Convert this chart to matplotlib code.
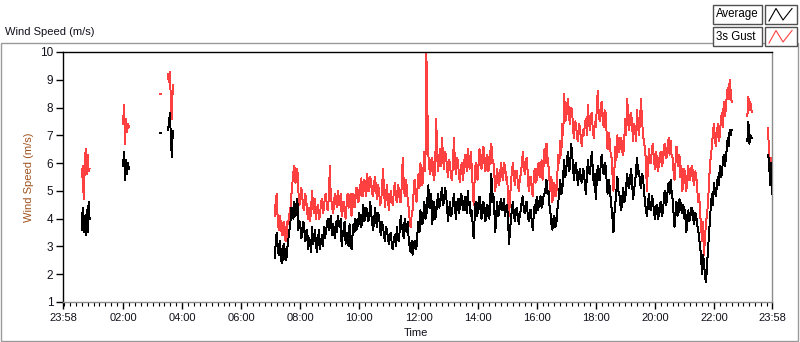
import numpy as np
import matplotlib
matplotlib.use("Agg")
import matplotlib.pyplot as plt
from matplotlib.patches import Rectangle
from matplotlib.lines import Line2D

# ---------------- data (minutes after 23:58 of the previous day) ----------------
# continuous segment 07:10 -> 22:38: readings every 4 minutes (avg_main / gust_main)
# plus the readings lying between them (…_mid), giving a 2-minute series
main_start_min = 430
main_step_min = 4
avg_main = [
    2.6, 3.5, 2.7, 2.9, 2.5, 2.9, 2.6, 3.3, 3.9, 4.2,
    4.6, 4.3, 3.6, 3.8, 3.4, 3.7, 3.3, 2.9, 3.1, 3.7,
    3.3, 3.0, 3.3, 2.9, 3.4, 3.7, 3.5, 4.0, 3.8, 3.4,
    3.6, 3.9, 4.1, 3.7, 3.0, 3.6, 3.1, 3.4, 3.8, 2.9,
    3.8, 4.0, 3.7, 4.2, 3.7, 4.5, 4.0, 4.3, 4.1,
    4.2, 3.6, 4.4, 3.7, 4.1, 3.4, 3.7, 3.2, 3.6, 3.1,
    3.5, 2.9, 3.4, 3.7, 3.2, 4.1, 3.6, 4.0, 3.5, 3.3,
    2.8, 2.7, 3.2, 3.0, 3.9, 4.3, 3.8, 4.6, 4.1, 5.2,
    4.4, 3.8, 4.6, 4.2, 4.9, 4.5, 5.1, 4.6, 4.9, 3.9,
    4.6, 4.2, 4.9, 4.0, 4.7, 4.4, 4.8, 4.3, 4.6, 5.0, 4.6,
    4.3, 3.3, 4.6, 4.2, 4.8, 4.0, 4.6, 3.9, 4.5, 4.0,
    5.6, 4.9, 3.5, 4.6, 4.2, 4.7, 4.3, 4.1, 4.5, 3.1,
    4.0, 4.6, 3.9, 4.4, 3.8, 4.3, 4.8, 4.2, 4.6, 3.9,
    4.3, 3.6, 4.5, 4.8, 4.4, 4.8, 4.5, 4.9, 5.4, 5.0,
    4.2, 3.6, 4.1, 3.8, 4.6, 5.4, 5.0, 6.1, 5.7, 6.4, 5.9,
    6.4, 5.4, 6.0, 5.2, 5.8, 5.3, 5.7, 4.9, 6.1, 5.6,
    6.4, 5.2, 4.7, 5.9, 5.4, 6.3, 5.6, 5.9, 4.9, 5.2,
    4.4, 3.5, 4.6, 5.5, 4.9, 4.3, 5.1, 4.7, 5.6, 5.1,
    5.8, 4.7, 5.3, 6.2, 5.7, 5.1, 5.5, 4.6, 4.1, 4.9,
    4.3, 4.7, 4.0, 4.5, 4.1, 4.6, 4.2, 5.0, 4.6, 5.3,
    5.4, 4.7, 3.7, 4.6, 4.2, 4.6, 4.2, 4.0, 3.5, 4.3,
    4.0, 4.4, 3.8, 4.1, 3.6, 3.0, 2.0, 2.4, 1.7, 2.9,
    4.0, 4.9, 5.3, 4.8, 5.5, 5.9, 5.6, 6.3, 6.1, 6.9, 7.2, 7.2,
]
avg_main_mid = [
    3.1, 2.9, 3.2, 2.4, 3.1, 2.5, 3.0, 3.6, 4.4, 4.0,
    4.1, 4.7, 3.9, 3.3, 3.9, 3.2, 3.6, 3.3, 2.8, 3.1,
    3.6, 2.8, 3.6, 3.2, 3.0, 3.3, 3.8, 3.6, 4.1, 3.8,
    3.3, 3.5, 3.8, 4.0, 3.4, 3.9, 3.5, 3.0, 3.3, 3.4,
    3.5, 3.6, 4.0, 3.8, 4.1, 3.9, 4.4, 3.9, 4.6,
    3.8, 4.0, 3.9, 4.2, 3.6, 3.9, 3.4, 3.7, 3.3, 3.4,
    3.0, 3.3, 3.0, 3.3, 3.6, 3.7, 3.3, 3.7, 3.9, 3.0,
    3.2, 3.0, 2.9, 3.5, 3.5, 3.9, 4.2, 4.0, 4.7, 4.4,
    4.9, 4.3, 4.0, 4.6, 4.4, 4.9, 4.5, 5.1, 4.4, 4.3,
    4.1, 4.6, 4.4, 4.5, 4.2, 4.9, 4.3, 4.8, 4.2, 4.5, 4.1,
    3.8, 4.0, 4.1, 4.6, 4.3, 4.5, 4.2, 4.4, 4.1, 4.8,
    4.6, 4.3, 4.2, 4.1, 4.6, 4.3, 4.7, 4.4, 3.9, 3.6,
    4.4, 4.1, 4.3, 4.0, 4.2, 4.7, 4.3, 4.6, 4.1, 4.3,
    3.9, 4.1, 4.2, 4.3, 4.7, 4.4, 4.8, 5.1, 4.9, 4.5,
    3.8, 4.0, 3.7, 4.3, 5.0, 4.9, 5.6, 5.5, 6.2, 5.7, 6.7,
    5.8, 5.9, 5.5, 5.6, 5.4, 5.8, 5.2, 5.5, 5.7, 6.0,
    5.8, 5.6, 5.3, 5.4, 5.9, 5.8, 6.0, 5.4, 5.4, 4.8,
    4.0, 4.2, 5.0, 5.0, 4.5, 4.8, 4.6, 5.2, 5.2, 5.5,
    5.2, 5.1, 5.8, 5.6, 5.3, 5.6, 5.0, 4.3, 4.5, 4.4,
    4.8, 4.3, 4.4, 4.0, 4.5, 4.1, 4.6, 4.5, 5.0, 4.9,
    5.0, 4.2, 4.2, 4.1, 4.7, 4.3, 4.5, 4.3, 3.9, 3.9,
    4.4, 4.0, 4.2, 3.8, 3.3, 2.6, 2.7, 1.9, 2.3, 3.4,
    4.5, 4.5, 5.0, 5.2, 5.2, 5.5, 6.0, 5.9, 6.5, 6.6, 7.0,
]
gust_main = [
    4.1, 4.9, 3.6, 3.9, 3.4, 3.7, 3.3, 3.8, 4.4, 5.3,
    5.9, 5.4, 5.0, 4.6, 4.8, 4.3, 4.7, 4.0, 3.9,
    5.0, 4.2, 4.0, 4.5, 4.1, 4.7, 4.4, 4.9, 4.3, 5.9,
    4.6, 4.4, 4.8, 5.0, 4.5, 4.1, 4.6, 4.0, 4.9, 4.5,
    4.1, 4.9, 4.7, 5.1, 4.8, 5.45, 4.9, 5.3, 5.6, 5.0,
    5.3, 4.8, 5.5, 4.7, 5.0, 4.6, 5.8, 4.4, 5.2, 4.3,
    5.0, 4.5, 5.3, 4.6, 5.1, 4.6, 6.2, 4.8, 5.2, 4.4,
    3.7, 4.3, 5.4, 4.6, 5.6, 6.0, 5.2, 6.4, 9.95, 6.3,
    5.6, 6.2, 5.4, 7.6, 5.7, 6.5, 6.9, 5.8, 6.3, 5.5,
    6.0, 5.4, 6.9, 5.6, 6.1, 5.3, 6.0, 5.7, 6.2, 6.5, 5.8,
    5.9, 4.5, 6.0, 5.4, 6.5, 5.8, 6.6, 5.7, 6.3, 5.9,
    6.7, 6.1, 5.0, 5.8, 5.2, 6.0, 5.4, 5.9, 5.5, 4.1,
    5.3, 6.0, 5.2, 5.7, 5.0, 5.6, 6.4, 5.6, 6.2, 5.0,
    5.5, 4.8, 5.8, 5.4, 6.0, 5.6, 5.4, 6.5, 6.7, 5.9,
    5.0, 4.6, 5.3, 4.9, 6.3, 6.8, 7.4, 8.5, 7.6, 8.3, 7.4,
    7.9, 6.9, 7.4, 6.8, 7.3, 6.6, 7.0, 7.6, 8.1, 7.2,
    7.8, 6.9, 7.3, 8.6, 7.5, 8.2, 7.3, 7.8, 6.5, 6.9,
    6.2, 5.0, 6.6, 7.0, 6.4, 6.9, 6.3, 7.6, 8.3, 7.2,
    7.8, 6.8, 7.3, 7.9, 7.0, 8.3, 7.1, 6.6, 5.0, 6.5,
    6.0, 6.7, 5.8, 6.2, 5.9, 6.4, 6.0, 6.7, 6.2, 6.9,
    6.8, 6.2, 5.4, 6.6, 5.9, 5.5, 5.0, 5.8, 5.0, 5.9,
    5.4, 5.9, 5.2, 5.6, 4.6, 4.2, 3.2, 2.7, 3.8, 4.5,
    5.9, 6.6, 7.4, 6.6, 7.4, 7.0, 7.8, 8.2, 7.9, 8.7, 9.0, 8.2,
]
gust_main_mid = [
    4.6, 4.0, 4.1, 3.5, 3.9, 3.2, 3.9, 4.2, 4.9, 5.7,
    5.3, 5.8, 4.5, 5.1, 4.4, 4.9, 4.2, 4.4, 4.4, 4.4,
    4.7, 4.4, 4.0, 4.6, 4.2, 4.8, 4.4, 4.8, 4.7, 4.2,
    4.9, 4.4, 4.5, 4.9, 4.6, 4.2, 4.5, 4.4, 4.9, 4.5,
    4.4, 5.1, 4.6, 5.2, 4.8, 5.4, 4.8, 5.1, 5.5,
    4.9, 5.3, 5.0, 5.2, 4.5, 5.1, 5.0, 4.9, 4.7, 4.8,
    4.6, 5.0, 4.8, 5.2, 4.6, 5.2, 5.3, 5.4, 4.7, 4.0,
    4.1, 4.9, 4.9, 5.1, 5.1, 5.5, 5.8, 5.7, 8.0, 5.8,
    6.1, 5.6, 6.0, 6.2, 6.2, 5.9, 6.1, 6.4, 5.8, 6.1,
    5.5, 6.0, 6.0, 6.2, 5.6, 5.8, 5.4, 6.3, 5.7, 6.0, 6.4,
    5.2, 5.4, 5.5, 6.0, 5.9, 6.3, 6.0, 6.2, 5.7, 6.4,
    6.0, 5.6, 5.5, 5.3, 5.7, 5.5, 6.0, 5.4, 4.8, 4.8,
    5.8, 5.5, 5.7, 5.2, 5.5, 6.0, 5.9, 6.1, 5.6, 5.5,
    5.1, 5.4, 5.3, 5.9, 5.5, 6.1, 5.9, 6.0, 6.2, 5.4,
    5.5, 5.1, 4.8, 5.6, 6.0, 6.3, 7.0, 7.5, 8.1, 7.6, 8.0,
    7.2, 7.5, 6.9, 7.4, 6.8, 7.2, 7.4, 7.0, 7.5, 7.7,
    7.2, 7.5, 7.9, 7.8, 8.0, 7.6, 7.9, 7.1, 7.1, 6.4,
    5.6, 5.8, 6.1, 6.5, 6.9, 6.4, 6.9, 7.0, 7.6, 7.7,
    7.3, 7.4, 6.8, 7.3, 7.6, 7.5, 6.7, 6.0, 5.9, 6.0,
    6.5, 6.2, 6.4, 5.7, 6.3, 5.9, 6.5, 6.2, 6.6, 6.3,
    6.3, 5.7, 6.0, 6.1, 6.3, 5.9, 5.5, 5.3, 5.5, 5.4,
    5.8, 5.4, 5.7, 5.1, 4.9, 3.7, 3.9, 3.4, 4.2, 5.3,
    6.3, 7.1, 6.9, 7.1, 6.8, 7.5, 7.3, 7.7, 8.4, 8.3, 8.6,
]

# short fragments, one reading every 2 minutes
frag1_start, frag1_avg, frag1_gust = 38, [3.6, 4.4, 3.5, 4.1, 3.4, 4.3, 3.5, 4.6, 4.0], [5.5, 5.9, 4.7, 5.7, 6.5, 5.6, 6.3, 5.7, 5.8]
frag2_start, frag2_avg, frag2_gust = 122, [5.9, 6.4, 5.4, 6.1, 5.6, 6.0, 5.8], [7.4, 8.1, 6.7, 7.6, 7.1, 7.4, 7.3]
frag3_start, frag3_avg, frag3_gust = 197, [7.1, 7.1], [8.5, 8.5]
frag4_start, frag4_avg, frag4_gust = 213, [7.2, 7.4, 7.8, 7.0, 6.2, 7.15], [9.2, 8.9, 9.3, 8.3, 7.6, 8.8]
frag5_start, frag5_avg, frag5_gust = 1390, [6.8, 7.5, 6.7, 7.0, 6.9, 6.9], [7.7, 8.4, 7.9, 8.2, 7.9, 7.85]
frag6_start, frag6_avg, frag6_gust = 1432, [6.3, 6.1, 5.2, 6.0, 4.9], [7.25, 6.3, 5.6, 6.2, 5.0]
frag_step_min = 2

x_tick_minutes = [0, 122, 242, 362, 482, 602, 722, 842, 962, 1082, 1202, 1322, 1440]
x_tick_labels = ["23:58", "02:00", "04:00", "06:00", "08:00", "10:00", "12:00",
                 "14:00", "16:00", "18:00", "20:00", "22:00", "23:58"]
y_ticks = [1, 2, 3, 4, 5, 6, 7, 8, 9, 10]


def interleave(on_grid, between):
    out = []
    for k, v in enumerate(on_grid):
        out.append(v)
        if k < len(between):
            out.append(between[k])
    return out


avg_main_2min = interleave(avg_main, avg_main_mid)
gust_main_2min = interleave(gust_main, gust_main_mid)

# ---------------- assemble with gaps ----------------
segments = [
    (frag1_start, frag_step_min, frag1_avg, frag1_gust),
    (frag2_start, frag_step_min, frag2_avg, frag2_gust),
    (frag3_start, frag_step_min, frag3_avg, frag3_gust),
    (frag4_start, frag_step_min, frag4_avg, frag4_gust),
    (main_start_min, main_step_min / 2, avg_main_2min, gust_main_2min),
    (frag5_start, frag_step_min, frag5_avg, frag5_gust),
    (frag6_start, frag_step_min, frag6_avg, frag6_gust),
]
T, A, G = [], [], []
for start, step, av, gu in segments:
    n = len(av)
    T.extend(start + step * np.arange(n))
    A.extend(av)
    G.extend(gu)
    T.append(np.nan); A.append(np.nan); G.append(np.nan)
T = np.array(T, float); A = np.array(A, float); G = np.array(G, float)

# ---------------- figure ----------------
W, H = 800, 342
fig = plt.figure(figsize=(W / 100, H / 100), dpi=100)
fig.patch.set_facecolor("white")
FONT = "Liberation Sans"
TXT = "#10101a"


def fx(px):
    return px / W


def fy(py):
    return 1 - py / H


def rect(x0, y0, x1, y1, **kw):
    fig.add_artist(Rectangle((fx(x0), fy(y1)), fx(x1) - fx(x0), fy(y0) - fy(y1),
                             transform=fig.transFigure, **kw))


# outer panel frame
rect(0.5, 42.5, 797.5, 340.5, fill=False, edgecolor="#9a9a9a", lw=1)

ax = fig.add_axes([fx(63), fy(302), fx(772) - fx(63), fy(52) - fy(302)])
ax.set_facecolor("white")
ax.plot(T, G, color="#ff4040", lw=0.7, zorder=2, antialiased=False)
ax.plot(T, A, color="#000000", lw=0.7, zorder=3, antialiased=False)
ax.set_xlim(0, 1440)
ax.set_ylim(1, 10)

ax.set_xticks(x_tick_minutes)
ax.set_xticklabels(x_tick_labels)
ax.set_xticks(np.arange(2, 1440, 12), minor=True)
ax.set_yticks(y_ticks)
ax.set_yticklabels([str(v) for v in y_ticks])
ax.tick_params(axis="x", which="major", length=5, width=1, direction="out", pad=3,
               labelsize=8, labelcolor=TXT, color="black")
ax.tick_params(axis="x", which="minor", length=3, width=0.8, direction="out", color="black")
ax.tick_params(axis="y", which="major", length=5, width=1, direction="out", pad=2,
               labelsize=8.5, labelcolor=TXT, color="black")
for lab in ax.get_xticklabels() + ax.get_yticklabels():
    lab.set_fontfamily(FONT)

for side, col in (("left", "black"), ("top", "black"), ("right", "#8c8c8c"), ("bottom", "#8c8c8c")):
    ax.spines[side].set_color(col)
    ax.spines[side].set_linewidth(1)

ax.set_ylabel("Wind Speed (m/s)", fontsize=8, color="#a0521e", fontfamily=FONT, labelpad=4)

fig.text(fx(5), fy(32), "Wind Speed (m/s)", ha="left", va="center", fontsize=8,
         color=TXT, fontfamily=FONT)
fig.text(fx(404), fy(333), "Time", ha="left", va="center", fontsize=8,
         color=TXT, fontfamily=FONT)

# legend (LabVIEW style plot legend)
legend_items = [("Average", "#000000", 5), ("3s Gust", "#ff4040", 27)]
for name, col, top in legend_items:
    rect(713, top, 762, top + 19, facecolor="white", edgecolor="#505050", lw=1)
    rect(765, top, 797, top + 19, facecolor="white", edgecolor="#505050", lw=1)
    fig.text(fx(715.5), fy(top + 9.5), name, ha="left", va="center", fontsize=8.3,
             color="black", fontfamily=FONT)
    xs = [769, 776, 783, 792]
    ys = [top + 16, top + 3.5, top + 15, top + 3.5]
    fig.add_artist(Line2D([fx(v) for v in xs], [fy(v) for v in ys],
                          transform=fig.transFigure, color=col, lw=0.8))

fig.savefig("out.png", dpi=100, facecolor="white")
